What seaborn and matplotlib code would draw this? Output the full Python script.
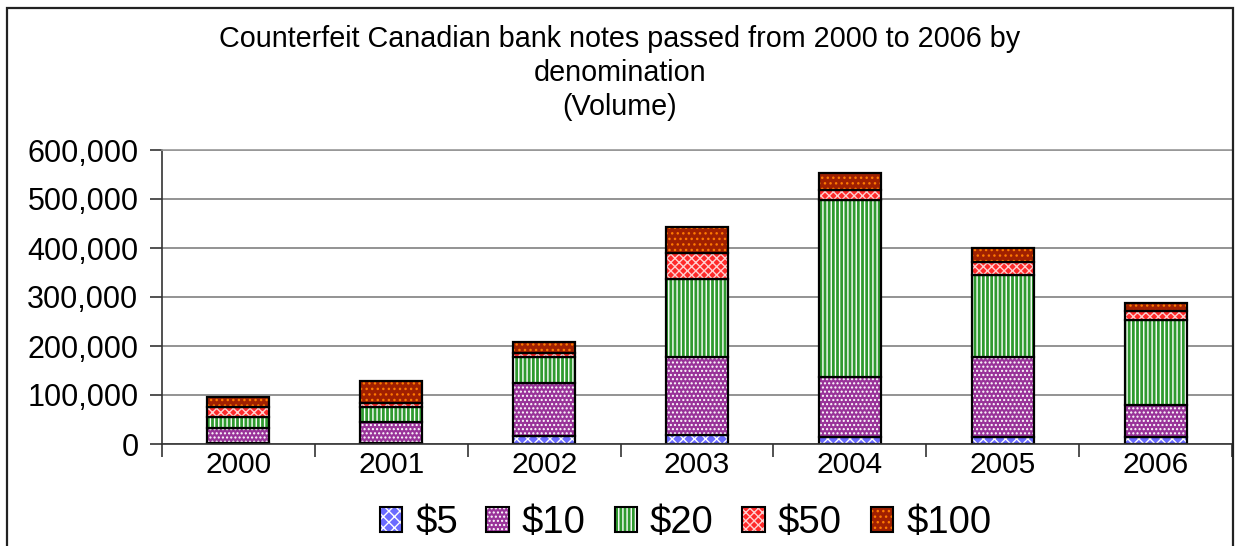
import numpy as np
import pandas as pd
import matplotlib
matplotlib.use("Agg")
import matplotlib.pyplot as plt
from matplotlib.patches import Patch, Rectangle
from matplotlib.legend_handler import HandlerTuple
from matplotlib.ticker import FuncFormatter
import seaborn as sns

# Counterfeit notes passed, by year and denomination (volume)
years = ["2000", "2001", "2002", "2003", "2004", "2005", "2006"]
notes_5 = [2000, 3000, 16000, 18000, 15000, 15000, 15000]
notes_10 = [31000, 42000, 109000, 160000, 121000, 163000, 64000]
notes_20 = [23000, 31000, 53000, 159000, 361000, 166000, 174000]
notes_50 = [20000, 7000, 7000, 52000, 21000, 27000, 19000]
notes_100 = [19000, 46000, 23000, 54000, 36000, 30000, 15000]
series_labels = ["$5", "$10", "$20", "$50", "$100"]

sns.set_theme(style="white")
plt.rcParams["font.family"] = ["Liberation Sans", "DejaVu Sans"]
plt.rcParams["hatch.linewidth"] = 1.0
plt.rcParams["text.color"] = "black"
plt.rcParams["xtick.color"] = "black"
plt.rcParams["ytick.color"] = "black"

df = pd.DataFrame({
    "year": years,
    "$5": notes_5,
    "$10": notes_10,
    "$20": notes_20,
    "$50": notes_50,
    "$100": notes_100,
})

styles = {
    "$5": dict(face="#6b6bff", hatch_col="white", hatch="xxx"),
    "$10": dict(face="#993399", hatch_col="white", hatch="...."),
    "$20": dict(face="#2f9a2f", hatch_col="white", hatch="||||"),
    "$50": dict(face="#ff2a2a", hatch_col="#ffd0d0", hatch="xxxx"),
    "$100": dict(face="#a02000", hatch_col="#ff7a00", hatch="..."),
}

fig = plt.figure(figsize=(12.35, 5.46), dpi=100)
ax = fig.add_axes([162 / 1235, 102 / 546, 1070 / 1235, 294 / 546])

bar_w = 0.405
bottom = np.zeros(len(years))
for lab in series_labels:
    st = styles[lab]
    vals = df[lab].to_numpy(dtype=float)
    # hatched fill
    sns.barplot(data=df, x="year", y=lab, ax=ax, color=st["face"],
                saturation=1, width=bar_w, errorbar=None,
                bottom=bottom, hatch=st["hatch"],
                facecolor=st["face"], edgecolor=st["hatch_col"], linewidth=0)
    # black outline
    sns.barplot(data=df, x="year", y=lab, ax=ax, color=st["face"],
                saturation=1, width=bar_w, errorbar=None,
                bottom=bottom, facecolor="none", edgecolor="black",
                linewidth=1.6)
    bottom = bottom + vals

ax.set_xlim(-0.5, len(years) - 0.5)
ax.set_ylim(0, 600000)
ax.set_yticks(np.arange(0, 600001, 100000))
ax.yaxis.set_major_formatter(FuncFormatter(lambda v, p: f"{int(v):,}"))
ax.set_xlabel("")
ax.set_ylabel("")

ax.set_axisbelow(True)
ax.yaxis.grid(True, color="#808080", linewidth=1.2)
ax.xaxis.grid(False)

for side in ["left", "bottom"]:
    ax.spines[side].set_color("#333333")
    ax.spines[side].set_linewidth(1.2)
ax.spines["top"].set_color("#999999")
ax.spines["top"].set_linewidth(1.2)
ax.spines["right"].set_visible(False)

ax.tick_params(axis="y", which="major", direction="out", length=9, width=1.2,
               color="#333333", labelsize=22, pad=8, left=True,
               labelcolor="black")
ax.tick_params(axis="x", which="major", length=0, labelsize=21.5, pad=5,
               labelcolor="black")
ax.set_xticks(np.arange(-0.5, len(years), 1.0), minor=True)
ax.tick_params(axis="x", which="minor", direction="out", length=9, width=1.2,
               color="#333333", bottom=True)

# chart title
fig.text(0.502, 1 - 25 / 546,
         "Counterfeit Canadian bank notes passed from 2000 to 2006 by\n"
         "denomination\n(Volume)",
         ha="center", va="top", fontsize=20.7, linespacing=1.27, color="black")

# legend along the bottom: hatched swatch with a black outline on top
handles = []
for l in series_labels:
    st = styles[l]
    fill = Patch(facecolor=st["face"], edgecolor=st["hatch_col"],
                 hatch=st["hatch"], linewidth=0)
    outline = Patch(facecolor="none", edgecolor="black", linewidth=1.5)
    handles.append((fill, outline))
leg = fig.legend(handles, series_labels, loc="center", ncol=5,
                 bbox_to_anchor=(0.555, 23 / 546), frameon=False,
                 fontsize=27.5, handlelength=0.58, handleheight=0.66,
                 handletextpad=0.35, columnspacing=0.75, borderpad=0,
                 labelcolor="black",
                 handler_map={tuple: HandlerTuple(ndivide=1, pad=0)})

# outer chart frame
fig.add_artist(Rectangle((7 / 1235, -0.05), 1226 / 1235, 1.05 - 8 / 546,
                         transform=fig.transFigure, fill=False,
                         edgecolor="#222222", linewidth=1.6))

fig.savefig("out.png", dpi=100, facecolor="white")
